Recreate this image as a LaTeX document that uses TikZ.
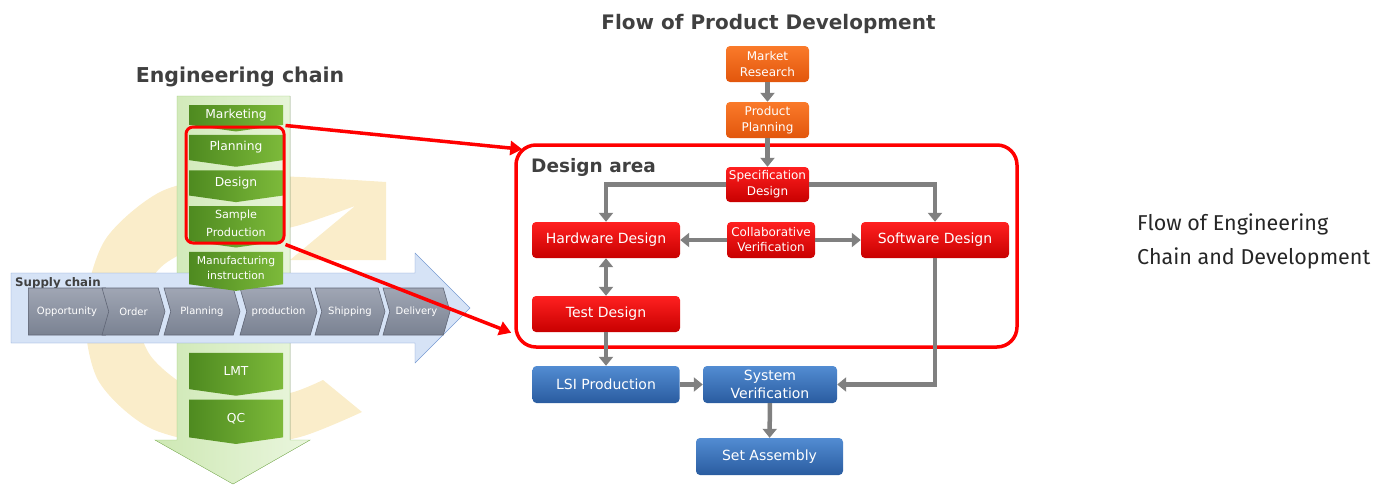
\documentclass[tikz,border=0pt]{standalone}
\usepackage{fontspec}
\setmainfont{DejaVu Sans}
\newfontfamily\capfont{Fira Sans}
\usepackage{tikz}
\usetikzlibrary{arrows.meta,calc,positioning,shapes.symbols}
\definecolor{titlegray}{RGB}{64,64,64}
\definecolor{ringyellow}{RGB}{250,237,202}
\definecolor{chainlight}{RGB}{234,246,222}
\definecolor{chaindark}{RGB}{206,232,180}
\definecolor{chainline}{RGB}{150,200,110}
\definecolor{supplyfill}{RGB}{214,227,246}
\definecolor{supplyline}{RGB}{120,155,210}
\definecolor{gdark}{RGB}{78,138,32}
\definecolor{glight}{RGB}{125,186,58}
\definecolor{sgraytop}{RGB}{160,166,180}
\definecolor{sgraybot}{RGB}{122,130,146}
\definecolor{sgrayedge}{RGB}{96,102,118}
\definecolor{orangetop}{RGB}{250,122,42}
\definecolor{orangebot}{RGB}{226,86,12}
\definecolor{redtop}{RGB}{255,32,32}
\definecolor{redbot}{RGB}{200,0,0}
\definecolor{bluetop}{RGB}{82,140,210}
\definecolor{bluebot}{RGB}{42,92,160}
\definecolor{linkgray}{RGB}{128,128,128}
\definecolor{hlred}{RGB}{255,0,0}
\newcommand{\fsz}[2]{\fontsize{#1}{#2}\selectfont}

\begin{document}
\begin{tikzpicture}[x=1pt,y=-1pt]
    \tikzstyle{gchev}=[signal,signal to=south,signal pointer angle=164,%
    minimum width=94pt,inner sep=0pt,left color=gdark,right color=glight,%
    text=white,align=center,font=\fsz{12.3}{17}]
    \tikzstyle{schev}=[signal,signal to=east,signal from=west,%
    signal pointer angle=148,minimum height=47pt,inner sep=0pt,%
    top color=sgraytop,bottom color=sgraybot,draw=sgrayedge,%
    line width=0.6pt,text=white,font=\fsz{10}{12}]
    \tikzstyle{fbox}=[rectangle,rounded corners=4pt,text=white,align=center,%
    inner sep=1pt,minimum height=36pt]
    \tikzstyle{obox}=[fbox,top color=orangetop,bottom color=orangebot,%
    minimum width=83pt,font=\fsz{12}{16}]
    \tikzstyle{rbox}=[fbox,top color=redtop,bottom color=redbot,%
    minimum width=148pt,font=\fsz{14}{16}]
    \tikzstyle{bbox}=[fbox,top color=bluetop,bottom color=bluebot,%
    minimum height=37pt,font=\fsz{14}{18}]
    \tikzstyle{link}=[draw=linkgray,line width=4.5pt,%
    -{Triangle[width=14pt,length=9pt]}]
    \tikzstyle{dlink}=[draw=linkgray,line width=4.5pt,%
    {Triangle[width=14pt,length=9pt]}-{Triangle[width=14pt,length=9pt]}]
    \tikzstyle{hlink}=[draw=hlred,line width=3.5pt,%
    -{Triangle[width=14pt,length=12pt]}]

    \useasboundingbox (0,0) rectangle (1390,485);

    %% Engineering chain
    \node[font=\fsz{20.5}{24}\bfseries,text=titlegray,anchor=base] (ECtitle)
        at (240,82) {Engineering chain};
    \fill[ringyellow] plot[smooth] coordinates {(362,412) (300,437) (230,446)
        (150,428) (98,380) (85,310) (105,240) (160,192) (230,176) (300,177)
        (386,182)} -- (386,260) -- (290,260)
        -- plot[smooth] coordinates {(355,206) (300,225) (250,236) (200,246)
        (160,268) (137,310) (150,355) (190,388) (240,398) (290,393)
        (323,380)} -- cycle;
    \filldraw[draw=chainline,left color=chaindark,right color=chainlight]
        (177,96) -- (290,96) -- (290,440) -- (310,440) -- (233,484)
        -- (155,440) -- (177,440) -- cycle;

    %% Supply chain
    \filldraw[draw=supplyline,fill=supplyfill] (11,273) -- (415,273)
        -- (415,253) -- (470,308) -- (415,363) -- (415,343) -- (11,343)
        -- cycle;
    \node[font=\fsz{11.8}{13}\bfseries,text=titlegray,anchor=base west,%
        inner sep=0pt] (SCtitle) at (15,286) {Supply chain};
    \node[schev,signal from=nowhere,minimum width=84pt] (SC0)
        at (67,311.5) {Opportunity};
    \foreach \i/\x/\w/\t in {1/133.5/63/Order, 2/202/76/Planning,
        3/278.5/77/production, 4/350/70/Shipping, 5/416.5/67/Delivery}
    {
        \node[schev,minimum width=\w pt] (SC\i) at (\x,311.5) {\t};
    }

    \foreach \i/\y/\h/\t in {MKT/115/24/Marketing, PLN/147.5/29/Planning,
        DSN/183/28/Design, LMT/371/38/LMT, QC/418.5/39/QC}
    {
        \node[gchev,minimum height=\h pt] (\i) at (236,\y) {\t};
    }
    \node[gchev,minimum height=39pt,font=\fsz{11.2}{18}] (SMP)
        at (236,223.5) {Sample\\Production};
    \node[gchev,minimum height=38pt,font=\fsz{10.8}{15}] (MFG)
        at (236,268) {Manufacturing\\instruction};

    \node[draw=hlred,line width=3pt,rounded corners=7pt,minimum width=98pt,%
        minimum height=116pt] (HL) at (235,185) {};

    %% Flow of product development
    \node[font=\fsz{20}{24}\bfseries,text=titlegray,anchor=base] (PDtitle)
        at (768.5,29) {Flow of Product Development};
    \node[draw=hlred,line width=3.5pt,rounded corners=20pt,%
        minimum width=501pt,minimum height=202pt] (DA) at (766.5,246) {};
    \node[font=\fsz{18.5}{22}\bfseries,text=titlegray,anchor=base west,%
        inner sep=0pt] (DAtitle) at (531,172) {Design area};

    \node[obox] (MR) at (767.5,64) {Market\\Research};
    \node[obox] (PP) at (767.5,120) {Product\\Planning};
    \node[fbox,top color=redtop,bottom color=redbot,minimum width=83pt,%
        minimum height=35pt,font=\fsz{12}{16}] (SD) at (767.5,184.5)
        {Specification\\Design};
    \node[rbox] (HW) at (606,240) {Hardware Design};
    \node[fbox,top color=redtop,bottom color=redbot,minimum width=88pt,%
        font=\fsz{12}{15}] (CV) at (771,240) {Collaborative\\Verification};
    \node[rbox] (SW) at (935,240) {Software Design};
    \node[rbox] (TD) at (606,314) {Test Design};
    \node[bbox,minimum width=147pt] (LSI) at (606,384.5) {LSI Production};
    \node[bbox,minimum width=134pt] (SV) at (770,384.5) {System\\Verification};
    \node[bbox,minimum width=147pt] (SA) at (769.5,456.5) {Set Assembly};

    \path[link] (MR) -- (PP);
    \path[link] (PP) -- (SD);
    \path[link] (SD.west) -| (HW.north);
    \path[link] (SD.east) -| (SW.north);
    \path[link] (CV) -- (HW);
    \path[link] (CV) -- (SW);
    \path[dlink] (HW) -- (TD);
    \path[link] (TD) -- (LSI);
    \path[link] (LSI) -- (SV);
    \path[link] (SW.south) |- (SV.east);
    \path[link] (SV) -- (SA);

    %% zoom lines
    \coordinate (DAin1) at ($(DA.north west)+(8,6)$);
    \coordinate (DAin2) at ($(DA.south west)+(-3,-16)$);
    \path[hlink] (HL.north east) -- (DAin1);
    \path[hlink] (HL.south east) -- (DAin2);

    \node[anchor=west,align=left,inner sep=0pt,font=\capfont\fsz{21.5}{34},%
        text=black!85] (CAP) at (1137,241) {Flow of Engineering\\Chain and Development};
\end{tikzpicture}
\end{document}
